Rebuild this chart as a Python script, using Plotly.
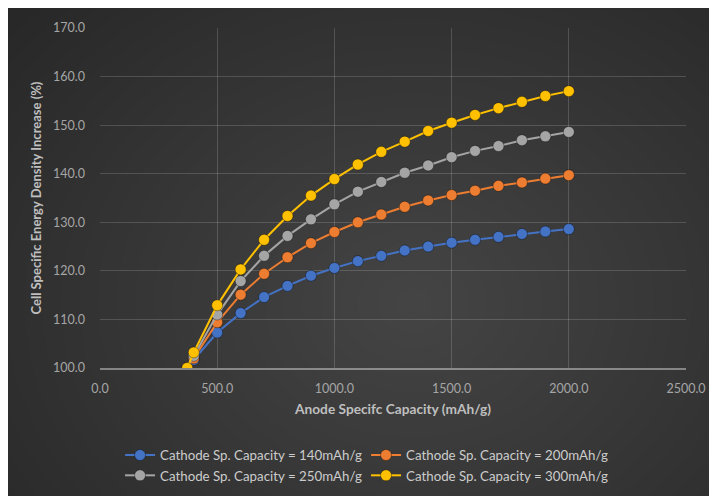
import plotly.graph_objects as go

# ---- data ----
anode_capacity = [372, 400, 500, 600, 700, 800, 900, 1000, 1100, 1200, 1300,
                  1400, 1500, 1600, 1700, 1800, 1900, 2000]
cathode_140 = [100.0, 101.7, 107.3, 111.3, 114.6, 116.9, 119.0, 120.6, 122.0, 123.1,
               124.2, 125.0, 125.8, 126.4, 127.0, 127.6, 128.1, 128.6]
cathode_200 = [100.0, 102.0, 109.4, 115.1, 119.4, 122.8, 125.7, 128.0, 130.0, 131.6,
               133.2, 134.5, 135.6, 136.5, 137.5, 138.2, 139.0, 139.7]
cathode_250 = [100.0, 102.5, 111.0, 117.9, 123.1, 127.2, 130.6, 133.7, 136.3, 138.3,
               140.2, 141.7, 143.4, 144.7, 145.7, 146.9, 147.7, 148.6]
cathode_300 = [100.0, 103.2, 112.9, 120.3, 126.4, 131.3, 135.5, 138.9, 141.9, 144.5,
               146.6, 148.8, 150.5, 152.1, 153.5, 154.8, 156.0, 157.0]

series_names = ["Cathode Sp. Capacity = 140mAh/g", "Cathode Sp. Capacity = 200mAh/g",
                "Cathode Sp. Capacity = 250mAh/g", "Cathode Sp. Capacity = 300mAh/g"]
series_values = [cathode_140, cathode_200, cathode_250, cathode_300]
series_colors = ["#4472C4", "#ED7D31", "#A5A5A5", "#FFC000"]

x_title = "Anode Specifc Capacity (mAh/g)"
y_title = "Cell Specific Energy Density Increase (%)"

FONT = "Lato"

fig = go.Figure()
for name, vals, col in zip(series_names, series_values, series_colors):
    fig.add_trace(go.Scatter(
        x=anode_capacity, y=vals, name=name, mode="lines+markers",
        line=dict(color=col, width=2),
        marker=dict(size=11, color=col, line=dict(color="rgba(0,0,0,0.35)", width=1)),
    ))

# radial-ish background gradient made of stacked translucent ellipses
shapes = []
W, H = 709, 488
L, R, T, B = 91.5, 31, 19.7, 127.7
pw, ph = W - L - R, H - T - B
cx, cy = 405, 295  # pixel centre of the lighter area (figure coords)
n = 28
for i in range(n):
    f = 1 - i / n
    rx, ry = 520 * f, 420 * f
    x0 = (cx - rx - L) / pw
    x1 = (cx + rx - L) / pw
    y0 = (H - B - (cy + ry)) / ph
    y1 = (H - B - (cy - ry)) / ph
    shapes.append(dict(type="circle", xref="paper", yref="paper", x0=x0, x1=x1,
                       y0=y0, y1=y1, layer="below", line=dict(width=0),
                       fillcolor="rgba(255,255,255,0.0085)"))

fig.update_layout(
    width=W, height=H,
    margin=dict(l=L, r=R, t=T, b=B, autoexpand=False),
    paper_bgcolor="#282828",
    plot_bgcolor="rgba(0,0,0,0)",
    font=dict(family=FONT, color="#a6a6a6", size=12),
    shapes=shapes,
    showlegend=True,
    legend=dict(orientation="h", xref="container", yref="container",
                x=0.505, xanchor="center", y=0.115, yanchor="top",
                font=dict(family=FONT, size=13.3, color="#cccccc"),
                entrywidth=201, entrywidthmode="pixels",
                bgcolor="rgba(0,0,0,0)", tracegroupgap=0,
                itemwidth=30),
    xaxis=dict(range=[0, 2500], dtick=500, tick0=0, tickformat=".1f",
               showgrid=True, gridcolor="rgba(255,255,255,0.16)", gridwidth=1,
               zeroline=False, showline=True, linecolor="rgba(255,255,255,0.4)",
               linewidth=1.5, ticks="", ticklabelstandoff=8,
               tickfont=dict(family=FONT, size=12.5, color="#a6a6a6"),
               title=dict(text="<b>" + x_title + "</b>", standoff=10,
                          font=dict(family=FONT, size=13.7, color="#bfbfbf"))),
    yaxis=dict(range=[100, 170], dtick=10, tick0=100, tickformat=".1f",
               showgrid=True, gridcolor="rgba(255,255,255,0.16)", gridwidth=1,
               zeroline=False, showline=False, ticks="", ticklabelstandoff=14,
               tickfont=dict(family=FONT, size=12.5, color="#a6a6a6"),
               title=dict(text="<b>" + y_title + "</b>", standoff=8,
                          font=dict(family=FONT, size=13, color="#bfbfbf"))),
)

fig.write_html("out.html")
